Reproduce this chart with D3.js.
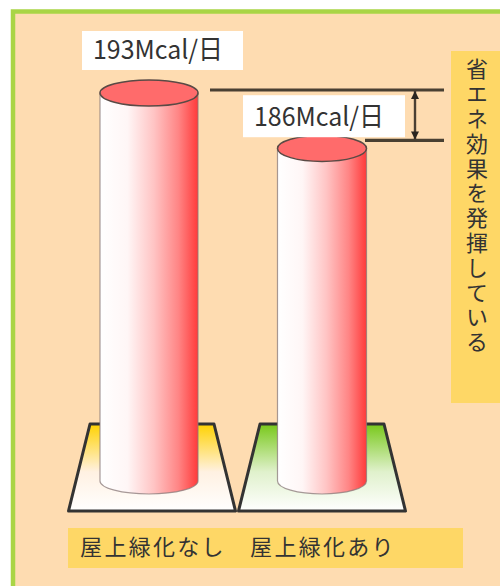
<!DOCTYPE html>
<html>
<head>
<meta charset="utf-8">
<script src="https://cdn.jsdelivr.net/npm/d3@7"></script>
<style>
  html, body { margin: 0; padding: 0; background: #ffffff; }
  svg { display: block; }
  text { font-family: "Noto Sans CJK JP", "Noto Sans", sans-serif; }
</style>
</head>
<body>
<div id="chart"></div>
<script>
// Daily heat load with and without a green roof
const categories = ["屋上緑化なし", "屋上緑化あり"];
const values = [193, 186];
const unit = "Mcal/日";
const sideNote = "省エネ効果を発揮している";

const W = 500, H = 586;
const svg = d3.select("#chart").append("svg")
  .attr("width", W).attr("height", H);

const defs = svg.append("defs");

// horizontal shading of the cylinder walls
const bodyGrad = defs.append("linearGradient").attr("id", "bodyGrad")
  .attr("x1", 0).attr("x2", 1).attr("y1", 0).attr("y2", 0);
[[0, "#ffffff"], [0.28, "#fff6f6"], [0.55, "#ffc4c4"], [0.8, "#ff8585"], [1, "#ff3a3a"]]
  .forEach(([o, c]) => bodyGrad.append("stop").attr("offset", o).attr("stop-color", c));

// base plates: yellow for bare roof, green for planted roof
const plateColors = ["#ffd200", "#78c81a"];
plateColors.forEach((c, i) => {
  const g = defs.append("linearGradient").attr("id", "plate" + i)
    .attr("x1", 0).attr("x2", 0).attr("y1", 0).attr("y2", 1);
  g.append("stop").attr("offset", 0).attr("stop-color", c);
  g.append("stop").attr("offset", 0.55).attr("stop-color", i === 0 ? "#fff1e2" : "#e0f1cc");
  g.append("stop").attr("offset", 1).attr("stop-color", "#ffffff");
});

// slight softening for the marker lines
const soft = defs.append("filter").attr("id", "soft")
  .attr("filterUnits", "userSpaceOnUse")
  .attr("x", 0).attr("y", 0).attr("width", W).attr("height", H);
soft.append("feGaussianBlur").attr("stdDeviation", 0.6);

// panel background and green frame
svg.append("rect").attr("x", 13).attr("y", 11.5).attr("width", W + 20).attr("height", H + 20)
  .attr("fill", "#fedcb1").attr("stroke", "#a9d546").attr("stroke-width", 4.5);

// scales
const x = d3.scalePoint().domain(categories).range([152, 322]);
const y = d3.scaleLinear().domain([144, 193]).range([481, 93]);

const ry = 13;
const bodyRx = [49, 44.5];
const bodyShift = [-3, 0];

// base plates
const plateTop = 424, plateBot = 511;
const plateHalfTop = 62, plateHalfBot = 83.5;
svg.append("g").selectAll("path").data(categories).join("path")
  .attr("d", c => {
    const cx = x(c);
    return `M${cx - plateHalfTop},${plateTop} L${cx + plateHalfTop},${plateTop} ` +
           `L${cx + plateHalfBot},${plateBot} L${cx - plateHalfBot},${plateBot} Z`;
  })
  .attr("fill", (c, i) => `url(#plate${i})`)
  .attr("stroke", "#333")
  .attr("stroke-width", 3)
  .attr("stroke-linejoin", "round");

// cylinders
const cyl = svg.append("g").selectAll("g").data(values).join("g");
cyl.append("path")
  .attr("d", (v, i) => {
    const cx = x(categories[i]) + bodyShift[i], rx = bodyRx[i];
    const yt = y(v), yb = y.range()[0];
    return `M${cx - rx},${yt} L${cx - rx},${yb} A${rx},${ry} 0 0 0 ${cx + rx},${yb} L${cx + rx},${yt} Z`;
  })
  .attr("fill", "url(#bodyGrad)")
  .attr("stroke", "#8a7a7a")
  .attr("stroke-opacity", 0.75)
  .attr("stroke-width", 1.2);
cyl.append("ellipse")
  .attr("cx", (v, i) => x(categories[i]) + bodyShift[i])
  .attr("cy", v => y(v))
  .attr("rx", (v, i) => bodyRx[i])
  .attr("ry", ry)
  .attr("fill", "#ff6b6b")
  .attr("stroke", "#5a4a45")
  .attr("stroke-width", 1.5);

// difference marker between the two heights
const lineLift = [3, 8];
const lineY = values.map((v, i) => y(v) - lineLift[i]);
const lineX0 = [210, 365], lineX1 = 444, arrowX = 415;
const ann = svg.append("g").attr("stroke", "#4a3f33").attr("fill", "#2a2520");
ann.selectAll("line.h").data(lineY).join("line").attr("class", "h")
  .attr("x1", (d, i) => lineX0[i]).attr("x2", lineX1)
  .attr("y1", d => d).attr("y2", d => d)
  .attr("stroke-width", 3.2)
  .attr("filter", "url(#soft)");
ann.append("line")
  .attr("x1", arrowX).attr("x2", arrowX)
  .attr("y1", lineY[0]).attr("y2", lineY[1])
  .attr("stroke-width", 2.4);
ann.append("path")
  .attr("stroke", "none")
  .attr("d", `M${arrowX},${lineY[0] + 1} l-4,8 l8,0 Z M${arrowX},${lineY[1] - 1} l-4,-8 l8,0 Z`);

// value labels in white boxes
const boxes = [
  { x: 82, y: lineY[0] - 59, w: 161, h: 39 },
  { x: 243, y: (lineY[0] + lineY[1]) / 2 - 20, w: 162, h: 42 }
];
const lab = svg.append("g").selectAll("g").data(values).join("g");
lab.append("rect")
  .attr("x", (v, i) => boxes[i].x).attr("y", (v, i) => boxes[i].y)
  .attr("width", (v, i) => boxes[i].w).attr("height", (v, i) => boxes[i].h)
  .attr("fill", "#ffffff");
lab.append("text")
  .attr("x", (v, i) => boxes[i].x + 11)
  .attr("y", (v, i) => boxes[i].y + boxes[i].h - 11)
  .attr("font-size", 26)
  .attr("fill", "#333")
  .attr("textLength", 130)
  .attr("lengthAdjust", "spacingAndGlyphs")
  .text(v => `${v}${unit}`);

// vertical note on the right
svg.append("rect").attr("x", 451).attr("y", 51).attr("width", 60).attr("height", 352)
  .attr("fill", "#fed766");
svg.append("text")
  .attr("x", 477).attr("y", 58)
  .attr("font-size", 22)
  .attr("fill", "#333")
  .style("writing-mode", "vertical-rl")
  .style("letter-spacing", "2.8px")
  .text(sideNote);

// category labels
svg.append("rect").attr("x", 68).attr("y", 528).attr("width", 395).attr("height", 40)
  .attr("fill", "#fed766");
svg.append("g").selectAll("text").data(categories).join("text")
  .attr("x", c => x(c) + 1)
  .attr("y", 555)
  .attr("text-anchor", "middle")
  .attr("font-size", 22)
  .attr("fill", "#333")
  .style("letter-spacing", "2.3px")
  .text(c => c);
</script>
</body>
</html>
